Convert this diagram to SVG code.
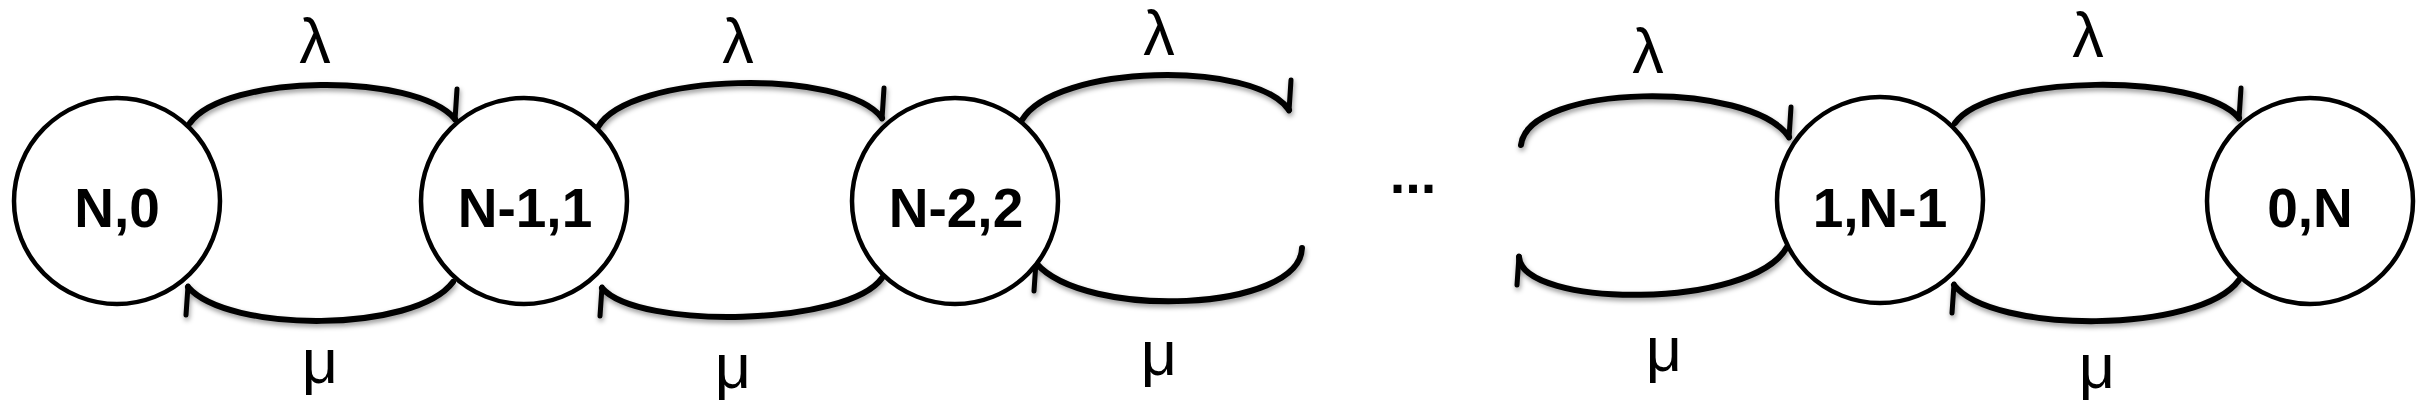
<svg xmlns="http://www.w3.org/2000/svg" width="2426" height="415" viewBox="0 0 2426 415">
  <style>
    .node circle { fill: #fff; stroke: #000; stroke-width: 4.5; }
    .node text { font-family: "Liberation Sans", Arial, sans-serif; font-weight: bold; font-size: 55px; text-anchor: middle; fill: #000; }
    .arc { fill: none; stroke: #000; stroke-width: 6; stroke-linecap: round; filter: url(#soft); }
    .top { marker-end: url(#barbUp); }
    .bot { marker-end: url(#barbDown); }
    .lbl { font-family: "Liberation Sans", Arial, sans-serif; font-size: 63px; text-anchor: middle; fill: #000; }
    .dots { font-family: "Liberation Sans", Arial, sans-serif; font-weight: bold; font-size: 56px; text-anchor: middle; fill: #000; }
  </style>
  <defs>
    <filter id="soft" x="-10%" y="-30%" width="120%" height="160%">
      <feDropShadow dx="1" dy="3" stdDeviation="2.5" flood-color="#000" flood-opacity="0.4"/>
    </filter>
    <marker id="barbUp" markerUnits="userSpaceOnUse" orient="0" markerWidth="10" markerHeight="40" refX="0" refY="0" style="overflow:visible">
      <path d="M0,1 L2,-30" fill="none" stroke="#000" stroke-width="5" stroke-linecap="round"/>
    </marker>
    <marker id="barbDown" markerUnits="userSpaceOnUse" orient="0" markerWidth="10" markerHeight="40" refX="0" refY="0" style="overflow:visible">
      <path d="M0,-1 L-2,28" fill="none" stroke="#000" stroke-width="5" stroke-linecap="round"/>
    </marker>
  </defs>

  <g id="connectors">
    <!-- N,0 <-> N-1,1 -->
    <path class="arc top" d="M190,123 C225,74 415,72 455,119"/>
    <path class="arc bot" d="M453,282 C415,333 228,333 188,287"/>
    <!-- N-1,1 <-> N-2,2 -->
    <path class="arc top" d="M598,127 C630,72 845,68 882,118"/>
    <path class="arc bot" d="M882,278 C848,326 638,330 602,288"/>
    <!-- N-2,2 <-> ... -->
    <path class="arc top" d="M1022,120 C1055,64 1255,60 1289,110"/>
    <path class="arc bot" d="M1302,248 C1300,312 1085,320 1036,263"/>
    <!-- ... <-> 1,N-1 -->
    <path class="arc top" d="M1521,145 C1528,83 1750,80 1789,137"/>
    <path class="arc bot" d="M1787,247 C1752,310 1522,308 1519,257"/>
    <!-- 1,N-1 <-> 0,N -->
    <path class="arc top" d="M1955,123 C1990,74 2200,72 2239,118"/>
    <path class="arc bot" d="M2239,280 C2200,334 1992,334 1954,285"/>

    <text class="lbl" x="315" y="63">λ</text>
    <text class="lbl" x="320" y="383">μ</text>
    <text class="lbl" x="738" y="63">λ</text>
    <text class="lbl" x="733" y="388">μ</text>
    <text class="lbl" x="1159" y="55">λ</text>
    <text class="lbl" x="1159" y="375">μ</text>
    <text class="lbl" x="1648" y="73">λ</text>
    <text class="lbl" x="1664" y="371">μ</text>
    <text class="lbl" x="2088" y="57">λ</text>
    <text class="lbl" x="2097" y="388">μ</text>
  </g>

  <g id="node-N0" class="node">
    <circle cx="117" cy="201" r="103"/>
    <text x="117" y="227">N,0</text>
  </g>
  <g id="node-N1-1" class="node">
    <circle cx="524" cy="201" r="103"/>
    <text x="525" y="227">N-1,1</text>
  </g>
  <g id="node-N2-2" class="node">
    <circle cx="955" cy="201" r="103"/>
    <text x="956" y="227">N-2,2</text>
  </g>
  <g id="ellipsis">
    <text class="dots" x="1413" y="193">...</text>
  </g>
  <g id="node-1-N1" class="node">
    <circle cx="1880" cy="200" r="103"/>
    <text x="1880" y="227">1,N-1</text>
  </g>
  <g id="node-0N" class="node">
    <circle cx="2310" cy="201" r="103"/>
    <text x="2310" y="227">0,N</text>
  </g>
</svg>
